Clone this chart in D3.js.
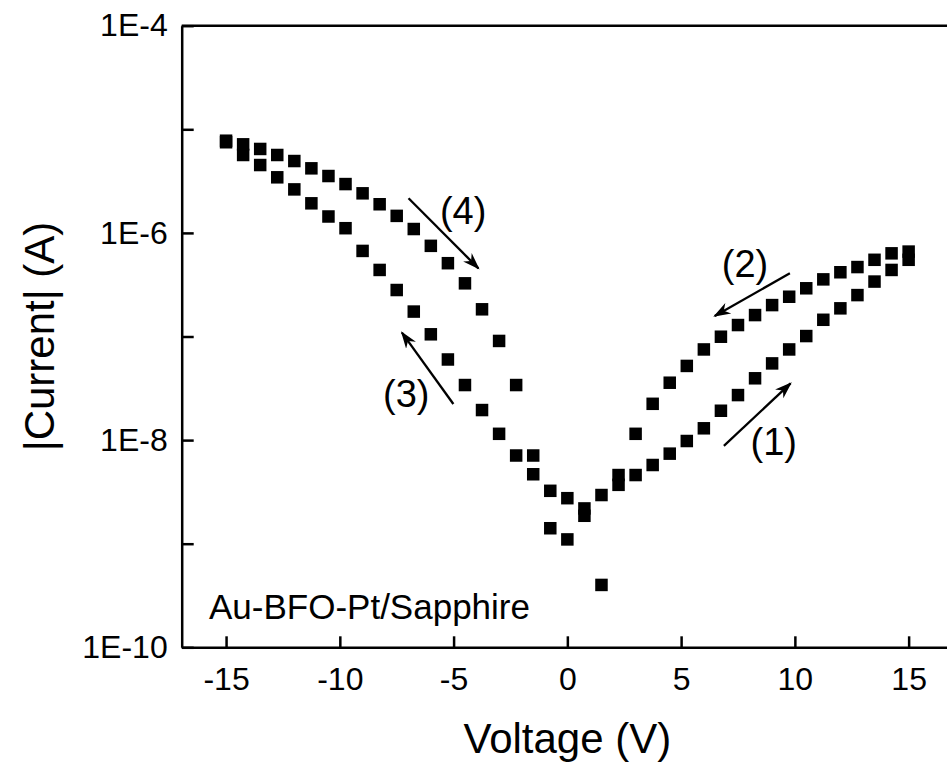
<!DOCTYPE html>
<html>
<head>
<meta charset="utf-8">
<script src="https://cdn.jsdelivr.net/npm/d3@7/dist/d3.min.js"></script>
<style>
  body { margin: 0; background: #fff; }
  svg text { font-family: "Liberation Sans", Arial, sans-serif; fill: #000; }
</style>
</head>
<body>
<svg id="chart" width="947" height="769"></svg>
<script>
// sweep (1): 0 -> +15 V
var sweep1Volts = [ 0, 0.75, 1.5, 2.25, 3, 3.75, 4.5, 5.25, 6, 6.75, 7.5, 8.25, 9, 9.75, 10.5, 11.25, 12, 12.75, 13.5, 14.25, 15 ];
var sweep1Amps = [ 1.10e-9, 1.86e-9, 4.0e-10, 3.7e-9, 4.6e-9, 5.75e-9, 7.4e-9, 9.8e-9, 1.30e-8, 1.92e-8, 2.72e-8, 3.95e-8, 5.5e-8, 7.5e-8, 1.01e-7, 1.45e-7, 1.87e-7, 2.51e-7, 3.39e-7, 4.39e-7, 5.5e-7 ];

// sweep (2): +15 -> 0 V
var sweep2Volts = [ 15, 14.25, 13.5, 12.75, 12, 11.25, 10.5, 9.75, 9, 8.25, 7.5, 6.75, 6, 5.25, 4.5, 3.75, 3, 2.25, 1.5, 0.75 ];
var sweep2Amps = [ 6.6e-7, 6.35e-7, 5.5e-7, 4.68e-7, 4.17e-7, 3.56e-7, 2.92e-7, 2.42e-7, 2.01e-7, 1.61e-7, 1.29e-7, 9.95e-8, 7.5e-8, 5.2e-8, 3.58e-8, 2.24e-8, 1.15e-8, 4.6e-9, 2.95e-9, 2.19e-9 ];

// sweep (3): 0 -> -15 V
var sweep3Volts = [ 0, -0.75, -1.5, -2.25, -3, -3.75, -4.5, -5.25, -6, -6.75, -7.5, -8.25, -9, -9.75, -10.5, -11.25, -12, -12.75, -13.5, -14.25, -15 ];
var sweep3Amps = [ 2.75e-9, 1.41e-9, 4.68e-9, 7.1e-9, 1.15e-8, 1.95e-8, 3.4e-8, 6.0e-8, 1.05e-7, 1.74e-7, 2.81e-7, 4.39e-7, 6.7e-7, 1.11e-6, 1.44e-6, 1.93e-6, 2.63e-6, 3.44e-6, 4.52e-6, 5.65e-6, 7.5e-6 ];

// sweep (4): -15 -> 0 V
var sweep4Volts = [ -15, -14.25, -13.5, -12.75, -12, -11.25, -10.5, -9.75, -9, -8.25, -7.5, -6.75, -6, -5.25, -4.5, -3.75, -3, -2.25, -1.5, -0.75 ];
var sweep4Amps = [ 7.76e-6, 7.16e-6, 6.46e-6, 5.65e-6, 4.94e-6, 4.2e-6, 3.54e-6, 2.96e-6, 2.41e-6, 1.89e-6, 1.46e-6, 1.09e-6, 7.5e-7, 5.1e-7, 3.26e-7, 1.83e-7, 9.06e-8, 3.4e-8, 7.1e-9, 3.24e-9 ];

var xTickValues = [ -15, -10, -5, 0, 5, 10, 15 ];
var xMinorValues = [ -12.5, -7.5, -2.5, 2.5, 7.5, 12.5 ];
var yTickValues = [ 1e-10, 1e-9, 1e-8, 1e-7, 1e-6, 1e-5, 1e-4 ];
var yLabelValues = [ 1e-10, 1e-8, 1e-6, 1e-4 ];

// sweep direction arrows, in data units
var arrowLabels = [ "(1)", "(2)", "(3)", "(4)" ];
var arrowFrom = [ [ 6.88, 8.8e-9 ], [ 9.78, 4.07e-7 ], [ -5.01, 2.23e-8 ], [ -6.98, 2.16e-6 ] ];
var arrowTo = [ [ 9.81, 3.53e-8 ], [ 6.48, 1.58e-7 ], [ -7.27, 1.09e-7 ], [ -3.91, 4.55e-7 ] ];
var labelAt = [ [ 9.07, 9.6e-9 ], [ 7.81, 5.0e-7 ], [ -7.08, 2.8e-8 ], [ -4.58, 1.62e-6 ] ];

var sampleName = "Au-BFO-Pt/Sapphire";

var svg = d3.select( "#chart" );
var plotLeft = 181.7, plotRight = 953, plotTop = 25.7, plotBottom = 647.3;

var xScale = d3.scaleLinear().domain( [ -16.95, 16.95 ] ).range( [ plotLeft, plotRight ] );
var yScale = d3.scaleLog().domain( [ 1e-10, 1e-4 ] ).range( [ plotBottom, plotTop ] );

function drawAxes() {
    var minorY = [];
    yTickValues.slice( 0, -1 ).forEach( function( d ) {
        for ( var m = 2; m < 10; m++ ) minorY.push( d * m );
    });

    var gx = svg.append( "g" ).attr( "transform", "translate(0," + plotBottom + ")" );
    gx.call( d3.axisBottom( xScale ).tickValues( xMinorValues ).tickSize( -5 ).tickSizeOuter( 0 ).tickFormat( "" ) );
    gx.call( d3.axisBottom( xScale ).tickValues( xTickValues ).tickSize( -11 ).tickSizeOuter( 0 ).tickPadding( 20 )
        .tickFormat( function( d ) { return d < 0 ? "-" + Math.abs( d ) : d; } ) );

    var gy = svg.append( "g" ).attr( "transform", "translate(" + plotLeft + ",0)" );
    gy.call( d3.axisLeft( yScale ).tickValues( minorY ).tickSize( -6 ).tickSizeOuter( 0 ).tickFormat( "" ) );
    gy.call( d3.axisLeft( yScale ).tickValues( yTickValues ).tickSize( -12 ).tickSizeOuter( 0 ).tickPadding( 14 )
        .tickFormat( function( d ) {
            return yLabelValues.indexOf( d ) > -1 ? "1E" + Math.round( Math.log10( d ) ) : "";
        }) );

    svg.selectAll( ".domain, .tick line" ).attr( "stroke", "#000" ).attr( "stroke-width", 2.5 );
    svg.selectAll( ".tick text" ).style( "font-size", "32px" ).style( "font-family", "Liberation Sans, Arial, sans-serif" );

    svg.append( "line" )
        .attr( "x1", plotLeft ).attr( "x2", plotRight ).attr( "y1", plotTop ).attr( "y2", plotTop )
        .attr( "stroke", "#000" ).attr( "stroke-width", 2.5 );

    svg.append( "text" )
        .attr( "x", xScale( 0 ) ).attr( "y", 753 )
        .attr( "text-anchor", "middle" ).style( "font-size", "42px" )
        .text( "Voltage (V)" );

    svg.append( "text" )
        .attr( "transform", "translate(54," + ( ( plotTop + plotBottom ) / 2 ) + ") rotate(-90)" )
        .attr( "text-anchor", "middle" ).style( "font-size", "42px" )
        .text( "|Current| (A)" );
}

function drawSweep( volts, amps ) {
    var size = 12.5;
    svg.append( "g" ).selectAll( "rect" )
        .data( volts )
        .enter()
        .append( "rect" )
        .attr( "x", function( v ) { return xScale( v ) - size / 2; } )
        .attr( "y", function( v, i ) { return yScale( amps[ i ] ) - size / 2; } )
        .attr( "width", size )
        .attr( "height", size )
        .attr( "fill", "#000" );
}

function drawArrows() {
    svg.append( "defs" ).append( "marker" )
        .attr( "id", "head" )
        .attr( "viewBox", "0 0 10 10" )
        .attr( "refX", 9 ).attr( "refY", 5 )
        .attr( "markerWidth", 7.5 ).attr( "markerHeight", 7.5 )
        .attr( "markerUnits", "strokeWidth" )
        .attr( "orient", "auto" )
        .append( "path" )
        .attr( "d", "M0,1.5 L10,5 L0,8.5 L3,5 Z" )
        .attr( "fill", "#000" );

    arrowLabels.forEach( function( label, i ) {
        svg.append( "line" )
            .attr( "x1", xScale( arrowFrom[ i ][ 0 ] ) ).attr( "y1", yScale( arrowFrom[ i ][ 1 ] ) )
            .attr( "x2", xScale( arrowTo[ i ][ 0 ] ) ).attr( "y2", yScale( arrowTo[ i ][ 1 ] ) )
            .attr( "stroke", "#000" ).attr( "stroke-width", 2.3 )
            .attr( "marker-end", "url(#head)" );

        svg.append( "text" )
            .attr( "x", xScale( labelAt[ i ][ 0 ] ) ).attr( "y", yScale( labelAt[ i ][ 1 ] ) )
            .attr( "text-anchor", "middle" ).attr( "dy", "0.35em" )
            .style( "font-size", "38px" )
            .text( label );
    });
}

drawAxes();
drawSweep( sweep1Volts, sweep1Amps );
drawSweep( sweep2Volts, sweep2Amps );
drawSweep( sweep3Volts, sweep3Amps );
drawSweep( sweep4Volts, sweep4Amps );
drawArrows();

svg.append( "text" )
    .attr( "x", 209 ).attr( "y", 619 )
    .style( "font-size", "35px" )
    .text( sampleName );
</script>
</body>
</html>
